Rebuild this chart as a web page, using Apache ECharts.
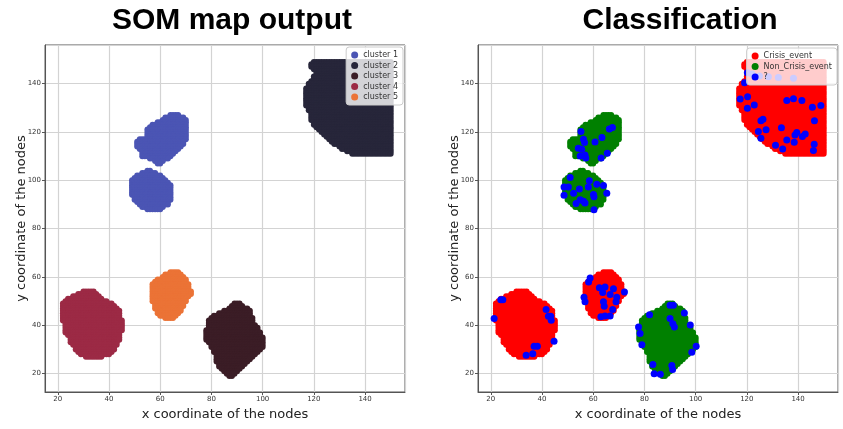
<!DOCTYPE html>
<html>
<head>
<meta charset="utf-8">
<script src="https://cdn.jsdelivr.net/npm/echarts@6/dist/echarts.min.js"></script>
<style>html,body{margin:0;padding:0;background:#fff}#c{width:843px;height:429px}</style>
</head>
<body>
<div id="c"></div>
<script>
// Tick values shown on both axes
const tickValues = [20, 40, 60, 80, 100, 120, 140];

// Blob shapes: [y, xFirst, xLast] (SOM node grid)
const cluster1Rows = [
  [127,64,67],[126,62,69],[125,61,70],[124,59,70],[123,57,70],[122,56,70],[121,55,70],[120,55,70],[119,55,70],
  [118,55,70],[117,52,70],[116,51,69],[115,51,69],[114,51,68],[113,52,67],[112,53,66],[111,53,65],[110,53,64],
  [109,56,63],[108,58,61],[107,59,60],
  [104,55,56],[103,53,58],[102,51,60],[101,50,61],[100,49,62],[99,49,63],[98,49,64],[97,49,64],[96,49,64],
  [95,49,64],[94,49,64],[93,50,64],[92,50,64],[91,51,63],[90,52,63],[89,53,61],[88,55,60]
];
const cluster2Rows = [
  [149,120,150],[148,119,150],[147,119,150],[146,120,150],[145,121,150],[144,121,150],[143,120,150],[142,120,150],
  [141,119,150],[140,118,150],[139,118,150],[138,117,150],[137,117,150],[136,117,150],[135,117,150],[134,117,150],
  [133,117,150],[132,117,150],[131,117,150],[130,118,150],[129,118,150],[128,119,150],[127,119,150],[126,119,150],
  [125,119,150],[124,120,150],[123,120,150],[122,121,150],[121,122,150],[120,123,150],[119,124,150],[118,125,150],
  [117,126,150],[116,127,150],[115,128,150],[114,130,150],[113,131,150],[112,133,150],[111,135,150]
];
const cluster3Rows = [
  [49,89,91],[48,88,92],[47,87,94],[46,85,95],[45,83,95],[44,81,95],[43,80,96],[42,79,96],[41,79,96],[40,79,97],
  [39,79,98],[38,78,98],[37,78,99],[36,78,99],[35,78,100],[34,78,100],[33,79,100],[32,80,100],[31,80,100],
  [30,81,99],[29,81,98],[28,82,97],[27,82,96],[26,82,95],[25,82,94],[24,83,93],[23,83,92],[22,84,91],[21,85,90],
  [20,86,89],[19,87,88]
];
const cluster4Rows = [
  [54,30,34],[53,28,35],[52,26,36],[51,24,37],[50,23,39],[49,22,41],[48,22,42],[47,22,43],[46,22,44],[45,22,44],
  [44,22,44],[43,22,44],[42,22,45],[41,23,45],[40,23,45],[39,23,45],[38,23,45],[37,23,44],[36,24,44],[35,25,44],
  [34,25,44],[33,25,43],[32,26,43],[31,27,42],[30,27,42],[29,28,41],[28,29,40],[27,31,37]
];
const cluster5Rows = [
  [62,64,67],[61,62,68],[60,61,69],[59,59,70],[58,58,70],[57,57,71],[56,57,71],[55,57,71],[54,57,72],[53,57,72],
  [52,57,71],[51,57,70],[50,57,70],[49,58,69],[48,58,69],[47,58,68],[46,59,68],[45,59,67],[44,60,66],[43,62,65]
];

// Unlabelled "?" points on the classification map
const unknownPoints = [
  [120.2,144.5],[122,144],[124.9,143.2],[128.4,142.9],[132.3,142.6],[138.2,142.2],[119.1,140.4],[117.4,133.7],[120.3,134.6],
  [120.2,129.8],[122.9,131.2],[125.5,124.7],[126.3,125.3],[124.5,120.2],[127.5,120.9],[125.5,117.4],[133.5,121.8],
  [135.6,133],[138.2,133.8],[141.5,133],[145.6,130.2],[148.9,131],[146.4,124.7],[139.5,119.8],[138.8,118.8],[141.7,118.1],
  [142.8,119.2],[135.6,116.7],[138.5,115.8],[131.2,114.5],[134,113],[146.3,114.9],[146,112.3],
  [55.2,120.2],[56.2,117],[56.6,115.6],[54.2,113.3],[55.5,112.9],[54.9,110.1],[56.8,110.5],[57.1,109.2],[60.7,115.9],
  [63.4,117.7],[66.3,121.2],[67.5,121.9],[65.5,111.2],[63.1,109.2],
  [51,101.2],[48.6,97.2],[50.3,97.2],[54.6,96.4],[58.1,97.2],[58.5,99.8],[61.4,98.4],[64,97.9],[65.3,94.7],[60.1,94.1],
  [60.3,93.2],[52.3,94.7],[48.6,93.8],[54.9,92],[56.2,91.3],[53.3,90.4],[56.8,90.6],[60.3,87.8],
  [23.9,50.6],[24.7,50.6],[21.3,42.8],[41.6,46.5],[42.5,43.7],[43.4,43.7],[43.6,42.1],[44.7,33.4],[36.9,31.3],[38.2,31.3],
  [36.4,28.2],[33.8,27.6],
  [58.8,59.6],[58.2,57.9],[62.4,55.5],[64.6,55.9],[63.7,53.6],[67.9,55.1],[66.6,52.7],[72.2,53.8],[69.2,51.6],[68.9,49.7],
  [56.4,51.6],[56.8,49.7],[64,49.7],[64.3,47.9],[67.6,46.5],[63,43.5],[64.6,43.8],[66.6,43.8],
  [90,48.3],[91.3,48.3],[82,44.4],[90,42.8],[91.1,40.6],[91.7,39.3],[95.6,45.1],[97.9,40.1],[77.7,39.3],[78.3,36.6],
  [79,32],[100.2,31.3],[98.5,28.8],[83.3,23.8],[90.7,23.4],[91,21.7],[83.8,20],[86.2,19.7]
];

const clusterNames = ['cluster 1','cluster 2','cluster 3','cluster 4','cluster 5'];
const classNames = ['Crisis_event','Non_Crisis_event','?'];
const clusterColors = ['#4b55b4','#27263a','#3b1d26','#9c2a45','#eb7336'];
const classColors = ['#ff0000','#008000','#0000ff'];

function expandRows(rows) {
  const pts = [];
  rows.forEach(([y, x0, x1]) => { for (let x = x0; x <= x1; x++) pts.push([x, y]); });
  return pts;
}
const c1 = expandRows(cluster1Rows), c2 = expandRows(cluster2Rows), c3 = expandRows(cluster3Rows),
      c4 = expandRows(cluster4Rows), c5 = expandRows(cluster5Rows);
const clusterData = [c1, c2, c3, c4, c5];
const crisisData = c2.concat(c4, c5);
const nonCrisisData = c1.concat(c3);

const FONT = 'DejaVu Sans';
function xAx(gi) {
  return {
    type: 'value', gridIndex: gi, min: 15, max: 155.6, splitNumber: 7,
    name: 'x coordinate of the nodes', nameLocation: 'middle', nameGap: 16, nameMoveOverlap: false,
    nameTextStyle: { fontFamily: FONT, fontSize: 13, color: '#222' },
    axisLine: { show: true, onZero: false, lineStyle: { color: '#555' } },
    axisTick: { show: true, length: 3, lineStyle: { color: '#555' } },
    axisLabel: { fontFamily: FONT, fontSize: 7, color: '#333', margin: 4, showMinLabel: false, showMaxLabel: false,
      formatter: v => tickValues.includes(v) ? String(v) : '' },
    splitLine: { show: true, lineStyle: { color: '#d3d3d3', width: 1.2 } }
  };
}
function yAx(gi) {
  return {
    type: 'value', gridIndex: gi, min: 12.4, max: 156, splitNumber: 7,
    name: 'y coordinate of the nodes', nameLocation: 'middle', nameGap: 17, nameMoveOverlap: false,
    nameTextStyle: { fontFamily: FONT, fontSize: 13, color: '#222' },
    axisLine: { show: true, onZero: false, lineStyle: { color: '#555' } },
    axisTick: { show: true, length: 3, lineStyle: { color: '#555' } },
    axisLabel: { fontFamily: FONT, fontSize: 7, color: '#333', margin: 4, showMinLabel: false, showMaxLabel: false,
      formatter: v => tickValues.includes(v) ? String(v) : '' },
    splitLine: { show: true, lineStyle: { color: '#d3d3d3', width: 1.2 } }
  };
}

const series = [];
clusterNames.forEach((n, i) => series.push({
  name: n, type: 'scatter', xAxisIndex: 0, yAxisIndex: 0, data: clusterData[i],
  symbol: 'circle', symbolSize: 6, itemStyle: { color: clusterColors[i], opacity: 1 }, silent: true
}));
[crisisData, nonCrisisData].forEach((d, i) => series.push({
  name: classNames[i], type: 'scatter', xAxisIndex: 1, yAxisIndex: 1, data: d,
  symbol: 'circle', symbolSize: 6, itemStyle: { color: classColors[i], opacity: 1 }, silent: true
}));
series.push({
  name: classNames[2], type: 'scatter', xAxisIndex: 1, yAxisIndex: 1, data: unknownPoints,
  symbol: 'circle', symbolSize: 7, itemStyle: { color: classColors[2], opacity: 1 }, silent: true
});

const legendCommon = {
  orient: 'vertical', icon: 'circle', itemWidth: 7, itemHeight: 7, itemGap: 2.5,
  padding: [4, 5, 4, 5],
  backgroundColor: 'rgba(255,255,255,0.8)', borderColor: '#cccccc', borderWidth: 1, borderRadius: 3,
  textStyle: { fontFamily: FONT, fontSize: 8, color: '#333' }, selectedMode: false
};

const chart = echarts.init(document.getElementById('c'), null, { renderer: 'canvas' });
chart.setOption({
  animation: false,
  title: [
    { text: 'SOM map output', left: 232, top: 6, textAlign: 'center', padding: 0,
      textStyle: { fontFamily: 'Liberation Sans', fontWeight: 'bold', fontSize: 30, color: '#000' } },
    { text: 'Classification', left: 680, top: 6, textAlign: 'center', padding: 0,
      textStyle: { fontFamily: 'Liberation Sans', fontWeight: 'bold', fontSize: 30, color: '#000' } }
  ],
  grid: [
    { left: 45, top: 45, width: 360, height: 347, show: true, borderColor: '#555', borderWidth: 1, backgroundColor: '#fff' },
    { left: 478, top: 45, width: 360, height: 347, show: true, borderColor: '#555', borderWidth: 1, backgroundColor: '#fff' }
  ],
  xAxis: [xAx(0), xAx(1)],
  yAxis: [yAx(0), yAx(1)],
  legend: [
    Object.assign({}, legendCommon, { data: clusterNames, right: 440, top: 47 }),
    Object.assign({}, legendCommon, { data: classNames, right: 6, top: 48 })
  ],
  series: series
});
</script>
</body>
</html>
